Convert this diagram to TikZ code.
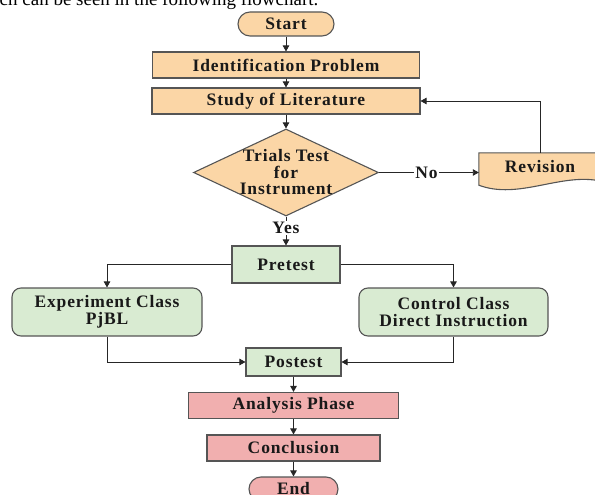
\documentclass[tikz,border=0pt]{standalone}
\usepackage{fontspec}
\setmainfont{Liberation Serif}
\newfontfamily\chartfont{Liberation Serif}[LetterSpace=5]
\usepackage{xcolor}
\usetikzlibrary{shapes,arrows.meta,positioning,calc}
\definecolor{peach}{HTML}{FBD6A6}
\definecolor{mint}{HTML}{D9EBD2}
\definecolor{rose}{HTML}{F1AFAF}
\definecolor{rim}{HTML}{555555}

\begin{document}
\begin{tikzpicture}[
    x=1pt, y=-1pt,
    every node/.style={inner sep=0pt, text=black!90, font=\chartfont\bfseries\fontsize{17.5}{16.5}\selectfont},
    orangebox/.style={draw=rim, line width=1.1pt, fill=peach},
    greenbox/.style={draw=rim, line width=1.1pt, fill=mint},
    pinkbox/.style={draw=rim, line width=1.1pt, fill=rose},
    terminal/.style={rounded corners=12pt},
    decision/.style={diamond, draw=rim, line width=1.1pt, fill=peach},
    flow/.style={draw=black!85, line width=0.9pt, -{Triangle[length=6pt,width=6.5pt]}},
    answer/.style={fill=white, inner sep=1pt}
]
    \useasboundingbox (0,0) rectangle (595,495);
    \node (intro) [anchor=base west, text=black, font=\fontsize{19}{22}\selectfont] at (-29,6) {which can be seen in the following flowchart.};

    % first stage
    \node (start) [orangebox, terminal, minimum width=96pt, minimum height=24pt] at (286,24) {Start};
    \node (ident) [orangebox, minimum width=267pt, minimum height=26pt] at (286,65) {Identification Problem};
    \node (study) [orangebox, minimum width=268pt, minimum height=26pt] at (286,101) {Study of Literature};
    \node (trial) [decision, minimum width=185pt, minimum height=87pt] at (286,172.5) {};
    \node (trialtext) [align=center] at (trial.center) {Trials Test\\for\\Instrument};
    \node (rev) [minimum width=122pt, minimum height=32pt] at (540,169) {};
    \draw[orangebox] (rev.north west) -- (rev.north east) -- ([yshift=4pt]rev.south east)
        .. controls ([xshift=-40pt,yshift=13pt]rev.south east) and ([xshift=40pt,yshift=-15pt]rev.south west) .. (rev.south west) -- cycle;
    \node (revtext) at ([yshift=2pt]rev.center) {Revision};

    % classes
    \node (pretest) [greenbox, minimum width=108pt, minimum height=37pt] at (286,264.5) {Pretest};
    \node (exper) [greenbox, rounded corners=9pt, minimum width=190pt, minimum height=48pt, align=center] at (107,312) {Experiment Class\\PjBL};
    \node (control) [greenbox, rounded corners=9pt, minimum width=189pt, minimum height=48pt, align=center] at (453.5,312) {Control Class\\Direct Instruction};
    \node (postest) [greenbox, minimum width=95pt, minimum height=28pt] at (293.5,362) {Postest};

    % last stage
    \node (analysis) [pinkbox, minimum width=210pt, minimum height=26pt] at (293.5,405.5) {Analysis Phase};
    \node (concl) [pinkbox, minimum width=173pt, minimum height=26pt] at (293.5,448) {Conclusion};
    \node (finish) [pinkbox, terminal, minimum width=89pt, minimum height=24pt] at (293.5,489) {End};

    \draw[flow] (start) -- (ident);
    \draw[flow] (ident) -- (study);
    \draw[flow] (study) -- (trial);
    \draw[flow] (trial.south) -- node[answer, pos=0.4] {Yes} (pretest.north);
    \draw[flow] (trial.east) -- node[answer, pos=0.475] {No} (trial.east -| rev.west);
    \draw[flow] (rev.north) |- (study.east);
    \draw[flow] (pretest.west) -| (exper.north);
    \draw[flow] (pretest.east) -| (control.north);
    \draw[flow] (exper.south) |- (postest.west);
    \draw[flow] (control.south) |- (postest.east);
    \draw[flow] (postest) -- (analysis);
    \draw[flow] (analysis) -- (concl);
    \draw[flow] (concl) -- (finish);
\end{tikzpicture}
\end{document}
